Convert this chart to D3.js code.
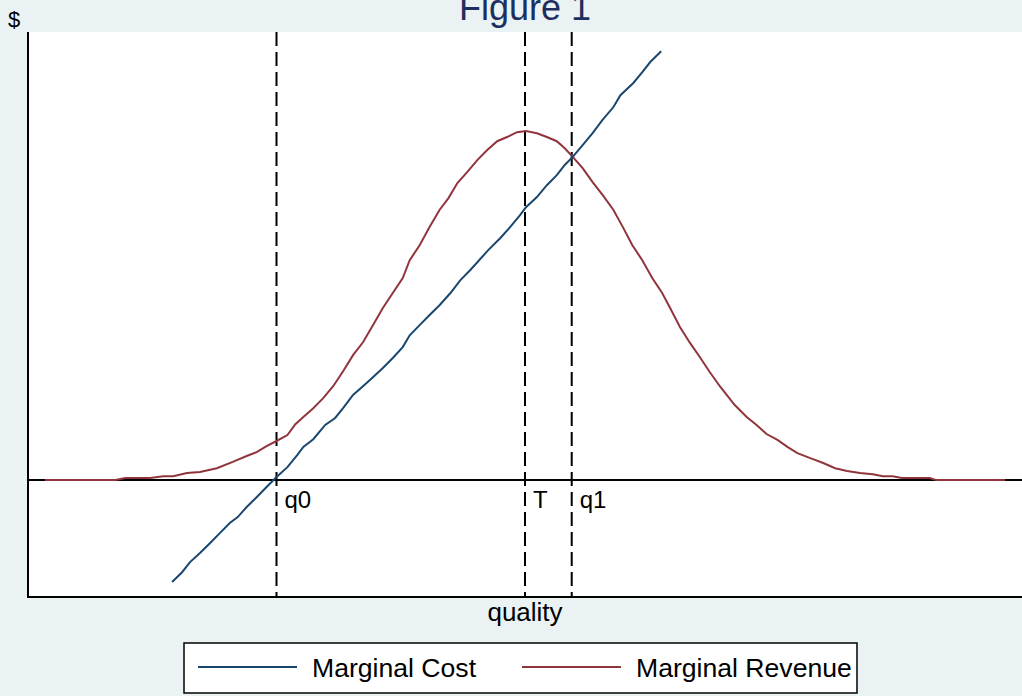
<!DOCTYPE html>
<html>
<head>
<meta charset="utf-8">
<script src="https://cdn.jsdelivr.net/npm/d3@7"></script>
<style>
  html, body { margin: 0; padding: 0; background: #eaf2f3; }
  svg { display: block; }
  text { font-family: "Liberation Sans", Arial, sans-serif; }
</style>
</head>
<body>
<script>
// ---- data (quality units 0..100, $ units with MR peak = 100) ----
const mrQuality = [1.7, 8.8, 9.8, 12.3, 13.6, 14.6, 16.0, 17.3, 19.0, 20.6, 22.0, 23.0, 24.0, 25.0, 26.1, 26.9, 27.7, 28.7, 29.7, 30.7, 31.7, 32.7, 33.7, 34.7, 35.7, 36.7, 37.7, 38.4, 39.4, 40.4, 41.4, 42.3, 43.2, 44.2, 45.2, 46.2, 47.2, 48.2, 49.2, 50.1, 51.2, 52.2, 53.2, 54.0, 54.8, 55.8, 56.8, 57.8, 58.9, 59.9, 60.8, 61.8, 62.8, 63.8, 64.6, 65.6, 66.6, 67.6, 68.6, 69.6, 71.1, 72.3, 73.3, 74.3, 75.4, 76.4, 77.4, 78.7, 80.0, 81.2, 82.4, 83.7, 85.0, 86.0, 87.0, 87.9, 90.7, 91.4, 98.3];
const mrValue = [0, 0, 0.6, 0.6, 1.1, 1.1, 2.0, 2.3, 3.4, 5.2, 6.9, 8.0, 9.7, 11.2, 12.9, 16.0, 18.1, 20.6, 23.5, 26.9, 31.2, 35.8, 39.5, 44.4, 49.3, 53.6, 57.9, 63.0, 67.3, 72.5, 77.4, 80.8, 85.1, 88.3, 91.7, 94.6, 97.1, 98.3, 99.7, 100, 99.4, 98.3, 97.1, 95.1, 92.6, 89.4, 85.4, 81.7, 77.4, 72.2, 67.3, 63.0, 57.9, 53.6, 49.3, 43.8, 39.3, 35.2, 30.9, 26.9, 21.5, 18.1, 15.8, 13.2, 11.5, 9.5, 7.7, 6.3, 4.9, 3.4, 2.6, 2.0, 1.7, 1.1, 1.1, 0.6, 0.6, 0, 0];

const mcQuality = [14.5, 15.5, 16.3, 17.3, 18.3, 19.3, 20.3, 21.1, 22.0, 23.0, 24.0, 25.0, 26.1, 27.1, 27.7, 28.7, 29.9, 30.9, 31.7, 32.7, 33.7, 34.7, 35.7, 36.7, 37.7, 38.4, 39.4, 40.4, 41.4, 42.5, 43.5, 44.5, 46.3, 47.5, 48.5, 49.5, 50.1, 51.2, 52.2, 53.2, 54.0, 54.8, 55.8, 56.8, 57.8, 58.9, 59.6, 60.9, 61.8, 62.6, 63.7];
const mcValue = [-29.2, -26.4, -23.5, -20.9, -18.1, -15.2, -12.3, -10.6, -7.7, -4.9, -2.0, 0.9, 3.7, 7.2, 9.5, 11.7, 15.8, 17.8, 20.6, 24.4, 26.9, 29.5, 32.1, 35.0, 38.1, 41.5, 44.4, 47.3, 50.1, 53.6, 57.3, 60.2, 65.9, 69.3, 72.5, 75.9, 78.2, 81.1, 84.5, 87.4, 90.3, 92.6, 96.0, 99.4, 103.2, 106.9, 110.3, 113.8, 116.9, 119.8, 122.9];

const markerNames = ["q0", "T", "q1"];
const markerQuality = [25.0, 50.0, 54.7];

const seriesNames = ["Marginal Cost", "Marginal Revenue"];
const seriesColors = ["#1a476f", "#90353b"];

const titleText = "Figure 1";
const xTitle = "quality";
const yTitle = "$";

// ---- layout ----
const W = 1022, H = 696;
const plot = { left: 28, right: 1022, top: 32, bottom: 597 };

const svg = d3.select("body").append("svg").attr("width", W).attr("height", H);

svg.append("rect").attr("x", 0).attr("y", 0).attr("width", W).attr("height", H).attr("fill", "#eaf2f3");
svg.append("rect").attr("x", plot.left).attr("y", plot.top)
  .attr("width", plot.right - plot.left).attr("height", plot.bottom - plot.top).attr("fill", "#ffffff");

const x = d3.scaleLinear().domain([0, 100]).range([plot.left, plot.right]);
const y = d3.scaleLinear().domain([-33.5, 128.4]).range([plot.bottom, plot.top]);

// zero line
svg.append("line")
  .attr("x1", plot.left).attr("x2", plot.right)
  .attr("y1", y(0)).attr("y2", y(0))
  .attr("stroke", "#000").attr("stroke-width", 2);

// dashed markers
svg.selectAll("line.marker").data(markerQuality).join("line")
  .attr("class", "marker")
  .attr("x1", d => x(d)).attr("x2", d => x(d))
  .attr("y1", plot.top).attr("y2", plot.bottom)
  .attr("stroke", "#000").attr("stroke-width", 2)
  .attr("stroke-dasharray", "14,6");

svg.selectAll("text.marker").data(markerQuality).join("text")
  .attr("class", "marker")
  .attr("x", d => x(d) + 8).attr("y", y(0) + 28)
  .attr("font-size", 24).attr("fill", "#000")
  .text((d, i) => markerNames[i]);

const line = d3.line().x(d => x(d[0])).y(d => y(d[1]));

const mrData = mrQuality.map((q, i) => [q, mrValue[i]]);
const mcData = mcQuality.map((q, i) => [q, mcValue[i]]);

svg.append("path").datum(mrData).attr("d", line)
  .attr("fill", "none").attr("stroke", seriesColors[1]).attr("stroke-width", 2);
svg.append("path").datum(mcData).attr("d", line)
  .attr("fill", "none").attr("stroke", seriesColors[0]).attr("stroke-width", 2);

// axes frame (left and bottom)
svg.append("line").attr("x1", plot.left).attr("x2", plot.left)
  .attr("y1", plot.top).attr("y2", plot.bottom + 1)
  .attr("stroke", "#000").attr("stroke-width", 2);
svg.append("line").attr("x1", plot.left - 1).attr("x2", plot.right)
  .attr("y1", plot.bottom).attr("y2", plot.bottom)
  .attr("stroke", "#000").attr("stroke-width", 2);

// titles
svg.append("text").attr("x", (plot.left + plot.right) / 2).attr("y", 20)
  .attr("text-anchor", "middle").attr("font-size", 36).attr("fill", "#1c2f5e")
  .text(titleText);
svg.append("text").attr("x", 8).attr("y", 27)
  .attr("font-size", 22).attr("fill", "#000").text(yTitle);
svg.append("text").attr("x", (plot.left + plot.right) / 2).attr("y", 621)
  .attr("text-anchor", "middle").attr("font-size", 26).attr("fill", "#000").text(xTitle);

// legend
const lg = svg.append("g");
lg.append("rect").attr("x", 184).attr("y", 643).attr("width", 673).attr("height", 50)
  .attr("fill", "#fff").attr("stroke", "#000").attr("stroke-width", 1.5);
const legendX = [198, 522];
seriesNames.forEach((name, i) => {
  lg.append("line").attr("x1", legendX[i]).attr("x2", legendX[i] + 99)
    .attr("y1", 667).attr("y2", 667)
    .attr("stroke", seriesColors[i]).attr("stroke-width", 2);
  lg.append("text").attr("x", legendX[i] + 114).attr("y", 677)
    .attr("font-size", 26.6).attr("fill", "#000").text(name);
});
</script>
</body>
</html>
